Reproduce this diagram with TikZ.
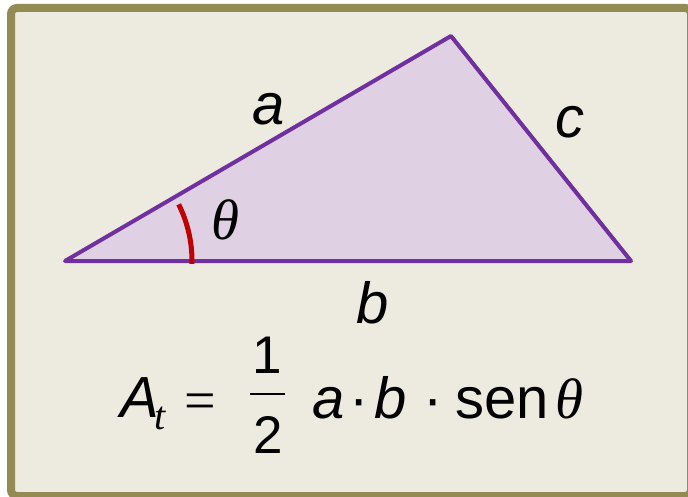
\documentclass[tikz,border=0pt]{standalone}
\usepackage{fontspec}
\setmainfont{Liberation Sans}
\newfontfamily\serifface{Liberation Serif}
\usetikzlibrary{calc}
\definecolor{bgcol}{HTML}{EDEBE0}
\definecolor{framecol}{HTML}{948A54}
\definecolor{trifill}{HTML}{DFD0E4}
\definecolor{tristroke}{HTML}{7030A0}
\definecolor{anglecol}{HTML}{C00000}
\begin{document}
\begin{tikzpicture}[x=1pt,y=-1pt,
  lbl/.style={inner sep=0pt, anchor=base, font=\fontsize{58}{60}\selectfont\itshape},
  greek/.style={inner sep=0pt, anchor=base, font=\fontsize{57}{60}\selectfont\serifface\itshape},
  upr/.style={inner sep=0pt, anchor=base, font=\fontsize{58}{60}\selectfont},
  rel/.style={inner sep=0pt, anchor=base, font=\fontsize{56}{60}\selectfont\serifface},
  frac/.style={inner sep=0pt, anchor=base, font=\fontsize{53}{56}\selectfont},
  subs/.style={inner sep=0pt, anchor=base, font=\fontsize{40}{42}\selectfont\serifface\itshape}]
\useasboundingbox (0,0) rectangle (688,497);
\fill[white] (0,0) rectangle (688,497);
\draw[framecol, line width=8pt, fill=bgcol, rounded corners=6pt] (11,8) rectangle (691,496);
% triangle
\coordinate (P) at (65,261);
\coordinate (Q) at (451,36);
\coordinate (R) at (631,261);
\filldraw[fill=trifill, draw=tristroke, line width=4pt, line join=round] (P) -- (Q) -- (R) -- cycle;
% angle arc
\draw[anglecol, line width=5pt] ($(P)+(1.3:127)$) arc[start angle=1.3, end angle=-26.5, radius=127];
% side labels
\node[lbl] (la) at (269,125) {a};
\node[lbl] (lc) at (570,138) {c};
\node[lbl] (lb) at (373,323) {b};
\node[greek] (lt) at (225,240) {θ};
% formula
\node[lbl, anchor=base west] (fA) at (120,417) {A};
\node[subs, anchor=base west] (ft) at (154,429) {t};
\node[rel] (feq) at (200,419) {=};
\draw[line width=2.5pt] (250,394) -- (285,394);
\node[frac] (f1) at (267,373) {1};
\node[frac] (f2) at (268,453) {2};
\node[lbl] (fa) at (329,418) {a};
\node[upr] (fd1) at (359,418) {·};
\node[lbl] (fb) at (391,418) {b};
\node[upr] (fd2) at (433,418) {·};
\node[upr, anchor=base west] (fsen) at (455,418) {sen};
\node[greek, anchor=base west] (fth) at (555,418) {θ};
\end{tikzpicture}
\end{document}
